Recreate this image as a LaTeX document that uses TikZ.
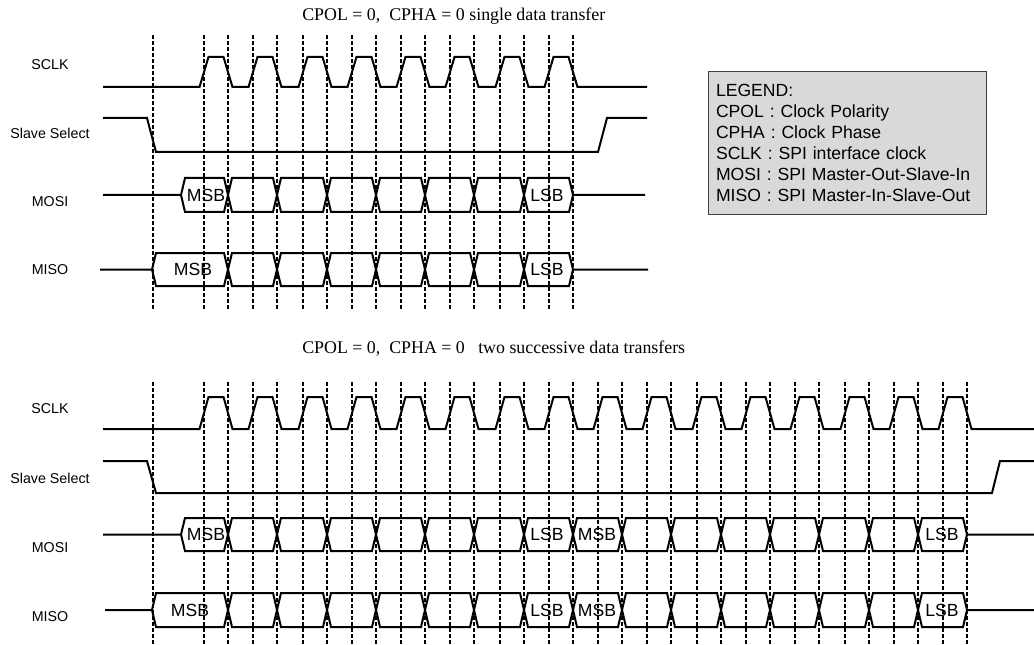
\documentclass[tikz,border=0pt]{standalone}
\usepackage{fontspec}
\setmainfont{Liberation Sans}
\newfontfamily\serifhead{Liberation Serif}
\usepackage{tikz}
\definecolor{legendgray}{RGB}{217,217,217}
\definecolor{legendrule}{RGB}{64,64,64}

\begin{document}
\begin{tikzpicture}[x=0.75pt,y=-0.75pt,
  wave/.style={line width=1.5pt},
  edgeline/.style={line width=0.8pt,dash pattern=on 3pt off 1.5pt},
  siglabel/.style={font=\fontsize{10.7}{12}\selectfont},
  bitlabel/.style={font=\fontsize{13.2}{15}\selectfont,inner sep=0pt},
  heading/.style={font=\serifhead\fontsize{13.4}{16}\selectfont,anchor=base west,inner sep=0pt},
  legendbox/.style={draw=legendrule,fill=legendgray,line width=0.6pt,
    minimum width=208.5pt,minimum height=107.25pt,text width=196.5pt,
    inner xsep=6pt,align=left,font=\fontsize{13.2}{15.75}\selectfont}]
\useasboundingbox (0,0) rectangle (1034,645);

%%%%%%%%% single data transfer
\node[heading] (headA) at (302,21) {CPOL = 0,\ \ CPHA = 0 single data transfer};

\draw[edgeline] (153,35) to (153,310);
\draw[edgeline] (204,35) to (204,310) (228,35) to (228,310);
\draw[edgeline] (253,35) to (253,310) (277,35) to (277,310);
\draw[edgeline] (303,35) to (303,310) (327,35) to (327,310);
\draw[edgeline] (352,35) to (352,310) (376,35) to (376,310);
\draw[edgeline] (401,35) to (401,310) (425,35) to (425,310);
\draw[edgeline] (450,35) to (450,310) (474,35) to (474,310);
\draw[edgeline] (500,35) to (500,310) (524,35) to (524,310);
\draw[edgeline] (549,35) to (549,310) (573,35) to (573,310);

\node[siglabel] (sclkA) at (50,65) {SCLK};
\node[siglabel] (ssA) at (50,133) {Slave Select};
\node[siglabel] (mosiA) at (50,202) {MOSI};
\node[siglabel] (misoA) at (50,270) {MISO};

% clock
\draw[wave] (103,87) -- (199.5,87) -- ++(9,-30) -- ++(15,0) -- ++(9,30)
  -- (248.5,87) -- ++(9,-30) -- ++(15,0) -- ++(9,30)
  -- (298.5,87) -- ++(9,-30) -- ++(15,0) -- ++(9,30)
  -- (347.5,87) -- ++(9,-30) -- ++(15,0) -- ++(9,30)
  -- (396.5,87) -- ++(9,-30) -- ++(15,0) -- ++(9,30)
  -- (445.5,87) -- ++(9,-30) -- ++(15,0) -- ++(9,30)
  -- (495.5,87) -- ++(9,-30) -- ++(15,0) -- ++(9,30)
  -- (544.5,87) -- ++(9,-30) -- ++(15,0) -- ++(9,30)
  -- (647,87);
% slave select
\draw[wave] (103,118) -- (147,118) -- (156,152) -- (598,152) -- (607,118) -- (647,118);
% mosi
\draw[wave] (103,195) -- (181,195) -- (185,178) -- (224,178) -- (232,212) -- (273,212)
  -- (281,178) -- (323,178) -- (331,212) -- (372,212) -- (380,178) -- (421,178)
  -- (429,212) -- (470,212) -- (478,178) -- (520,178) -- (528,212) -- (569,212)
  -- (573,195) -- (645,195);
\draw[wave] (181,195) -- (185,212) -- (224,212) -- (232,178) -- (273,178)
  -- (281,212) -- (323,212) -- (331,178) -- (372,178) -- (380,212) -- (421,212)
  -- (429,178) -- (470,178) -- (478,212) -- (520,212) -- (528,178) -- (569,178)
  -- (573,195);
% miso
\draw[wave] (100,269.5) -- (152,269.5) -- (156,253) -- (224,253) -- (232,286) -- (273,286)
  -- (281,253) -- (323,253) -- (331,286) -- (372,286) -- (380,253) -- (421,253)
  -- (429,286) -- (470,286) -- (478,253) -- (520,253) -- (528,286) -- (569,286)
  -- (573,269.5) -- (648,269.5);
\draw[wave] (152,269.5) -- (156,286) -- (224,286) -- (232,253) -- (273,253)
  -- (281,286) -- (323,286) -- (331,253) -- (372,253) -- (380,286) -- (421,286)
  -- (429,253) -- (470,253) -- (478,286) -- (520,286) -- (528,253) -- (569,253)
  -- (573,269.5);

\node[bitlabel] (mosiAmsb) at (206,195) {MSB};
\node[bitlabel] (mosiAlsb) at (547,195) {LSB};
\node[bitlabel] (misoAmsb) at (193,269.5) {MSB};
\node[bitlabel] (misoAlsb) at (547,269.5) {LSB};

\node[legendbox] (legend) at (847,142.5) {LEGEND:\\
CPOL : Clock Polarity\\
CPHA : Clock Phase\\
SCLK : SPI interface clock\\
MOSI : SPI Master-Out-Slave-In\\
MISO : SPI Master-In-Slave-Out};

%%%%%%%%% two successive data transfers
\node[heading] (headB) at (302,353) {CPOL = 0,\ \ CPHA = 0\ \ \ two successive data transfers};

\draw[edgeline] (153,382) to (153,645);
\draw[edgeline] (204,382) to (204,645) (228,382) to (228,645);
\draw[edgeline] (253,382) to (253,645) (277,382) to (277,645);
\draw[edgeline] (303,382) to (303,645) (327,382) to (327,645);
\draw[edgeline] (352,382) to (352,645) (376,382) to (376,645);
\draw[edgeline] (401,382) to (401,645) (425,382) to (425,645);
\draw[edgeline] (450,382) to (450,645) (474,382) to (474,645);
\draw[edgeline] (500,382) to (500,645) (524,382) to (524,645);
\draw[edgeline] (549,382) to (549,645) (573,382) to (573,645);
\draw[edgeline] (598,382) to (598,645) (622,382) to (622,645);
\draw[edgeline] (647,382) to (647,645) (671,382) to (671,645);
\draw[edgeline] (697,382) to (697,645) (721,382) to (721,645);
\draw[edgeline] (746,382) to (746,645) (770,382) to (770,645);
\draw[edgeline] (795,382) to (795,645) (819,382) to (819,645);
\draw[edgeline] (845,382) to (845,645) (869,382) to (869,645);
\draw[edgeline] (894,382) to (894,645) (918,382) to (918,645);
\draw[edgeline] (943,382) to (943,645) (967,382) to (967,645);

\node[siglabel] (sclkB) at (50,409) {SCLK};
\node[siglabel] (ssB) at (50,478) {Slave Select};
\node[siglabel] (mosiB) at (50,548) {MOSI};
\node[siglabel] (misoB) at (50,617) {MISO};

% clock
\draw[wave] (103,429) -- (199.5,429) -- ++(9,-32) -- ++(15,0) -- ++(9,32)
  -- (248.5,429) -- ++(9,-32) -- ++(15,0) -- ++(9,32)
  -- (298.5,429) -- ++(9,-32) -- ++(15,0) -- ++(9,32)
  -- (347.5,429) -- ++(9,-32) -- ++(15,0) -- ++(9,32)
  -- (396.5,429) -- ++(9,-32) -- ++(15,0) -- ++(9,32)
  -- (445.5,429) -- ++(9,-32) -- ++(15,0) -- ++(9,32)
  -- (495.5,429) -- ++(9,-32) -- ++(15,0) -- ++(9,32)
  -- (544.5,429) -- ++(9,-32) -- ++(15,0) -- ++(9,32)
  -- (593.5,429) -- ++(9,-32) -- ++(15,0) -- ++(9,32)
  -- (642.5,429) -- ++(9,-32) -- ++(15,0) -- ++(9,32)
  -- (692.5,429) -- ++(9,-32) -- ++(15,0) -- ++(9,32)
  -- (741.5,429) -- ++(9,-32) -- ++(15,0) -- ++(9,32)
  -- (790.5,429) -- ++(9,-32) -- ++(15,0) -- ++(9,32)
  -- (840.5,429) -- ++(9,-32) -- ++(15,0) -- ++(9,32)
  -- (889.5,429) -- ++(9,-32) -- ++(15,0) -- ++(9,32)
  -- (938.5,429) -- ++(9,-32) -- ++(15,0) -- ++(9,32)
  -- (1034,429);
% slave select
\draw[wave] (103,461) -- (147,461) -- (156,493) -- (992,493) -- (1000,461) -- (1034,461);
% mosi
\draw[wave] (103,534.5) -- (181,534.5) -- (185,518) -- (224,518) -- (232,551) -- (273,551)
  -- (281,518) -- (323,518) -- (331,551) -- (372,551) -- (380,518) -- (421,518)
  -- (429,551) -- (470,551) -- (478,518) -- (520,518) -- (528,551) -- (569,551)
  -- (577,518) -- (618,518) -- (626,551) -- (667,551) -- (675,518) -- (717,518)
  -- (725,551) -- (766,551) -- (774,518) -- (815,518) -- (823,551) -- (865,551)
  -- (873,518) -- (914,518) -- (922,551) -- (963,551) -- (967,534.5) -- (1034,534.5);
\draw[wave] (181,534.5) -- (185,551) -- (224,551) -- (232,518) -- (273,518)
  -- (281,551) -- (323,551) -- (331,518) -- (372,518) -- (380,551) -- (421,551)
  -- (429,518) -- (470,518) -- (478,551) -- (520,551) -- (528,518) -- (569,518)
  -- (577,551) -- (618,551) -- (626,518) -- (667,518) -- (675,551) -- (717,551)
  -- (725,518) -- (766,518) -- (774,551) -- (815,551) -- (823,518) -- (865,518)
  -- (873,551) -- (914,551) -- (922,518) -- (963,518) -- (967,534.5);
% miso
\draw[wave] (105,610) -- (152,610) -- (156,593) -- (224,593) -- (232,627) -- (273,627)
  -- (281,593) -- (323,593) -- (331,627) -- (372,627) -- (380,593) -- (421,593)
  -- (429,627) -- (470,627) -- (478,593) -- (520,593) -- (528,627) -- (569,627)
  -- (577,593) -- (618,593) -- (626,627) -- (667,627) -- (675,593) -- (717,593)
  -- (725,627) -- (766,627) -- (774,593) -- (815,593) -- (823,627) -- (865,627)
  -- (873,593) -- (914,593) -- (922,627) -- (963,627) -- (967,610) -- (1034,610);
\draw[wave] (152,610) -- (156,627) -- (224,627) -- (232,593) -- (273,593)
  -- (281,627) -- (323,627) -- (331,593) -- (372,593) -- (380,627) -- (421,627)
  -- (429,593) -- (470,593) -- (478,627) -- (520,627) -- (528,593) -- (569,593)
  -- (577,627) -- (618,627) -- (626,593) -- (667,593) -- (675,627) -- (717,627)
  -- (725,593) -- (766,593) -- (774,627) -- (815,627) -- (823,593) -- (865,593)
  -- (873,627) -- (914,627) -- (922,593) -- (963,593) -- (967,610);

\node[bitlabel] (mosiBmsb) at (206,534.5) {MSB};
\node[bitlabel] (mosiBlsb) at (547,534.5) {LSB};
\node[bitlabel] (mosiBmsbb) at (597,534.5) {MSB};
\node[bitlabel] (mosiBlsbb) at (942,534.5) {LSB};
\node[bitlabel] (misoBmsb) at (190,610) {MSB};
\node[bitlabel] (misoBlsb) at (547,610) {LSB};
\node[bitlabel] (misoBmsbb) at (597,610) {MSB};
\node[bitlabel] (misoBlsbb) at (942,610) {LSB};

\end{tikzpicture}
\end{document}
